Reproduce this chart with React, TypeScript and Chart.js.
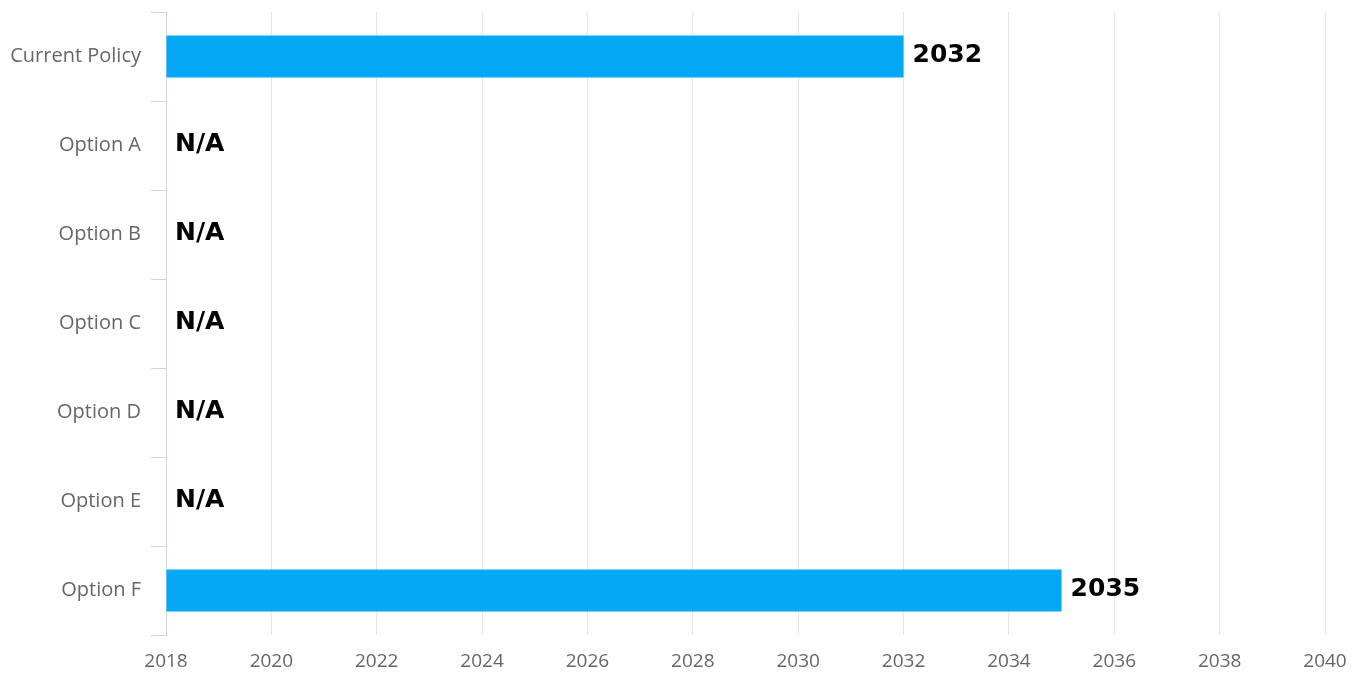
import React, { useEffect, useRef } from "react";
import { Chart, registerables } from "chart.js";

Chart.register(...registerables);

const categories = ["Current Policy", "Option A", "Option B", "Option C", "Option D", "Option E", "Option F"];
const years: (number | null)[] = [2032, null, null, null, null, null, 2035];
const axisMin = 2018;
const axisMax = 2040;
const axisStep = 2;
const missingLabel = "N/A";

const labelPlugin = {
  id: "barLabels",
  afterDatasetsDraw(chart: any) {
    const ctx = chart.ctx;
    const meta = chart.getDatasetMeta(0);
    const xScale = chart.scales.x;
    ctx.save();
    ctx.font = "bold 25px 'DejaVu Sans'";
    ctx.fillStyle = "#000000";
    ctx.textAlign = "left";
    ctx.textBaseline = "alphabetic";
    meta.data.forEach((bar: any, i: number) => {
      const v = years[i];
      const text = v == null ? missingLabel : String(v);
      const endX = v == null ? xScale.left : xScale.getPixelForValue(v);
      ctx.fillText(text, endX + 9, bar.y + 5.5);
    });
    ctx.restore();
  },
};

export default function App() {
  const ref = useRef<HTMLCanvasElement>(null);
  useEffect(() => {
    if (!ref.current) return;
    const chart = new Chart(ref.current, {
      type: "bar",
      data: {
        labels: categories,
        datasets: [
          {
            data: years as any,
            backgroundColor: "#03A9F4",
            borderWidth: 0,
            base: axisMin,
            categoryPercentage: 1,
            barPercentage: 0.47,
          } as any,
        ],
      },
      options: {
        indexAxis: "y",
        animation: false,
        responsive: true,
        maintainAspectRatio: false,
        layout: { padding: { top: 12, right: 39, left: 0, bottom: 0 } },
        plugins: { legend: { display: false }, tooltip: { enabled: false } },
        scales: {
          x: {
            type: "linear",
            min: axisMin,
            max: axisMax,
            ticks: {
              stepSize: axisStep,
              callback: (v: any) => String(v),
              color: "#666666",
              font: { family: "'Open Sans'", size: 19 },
              padding: 15,
            },
            grid: { color: "#e6e6e6", drawTicks: false, lineWidth: 1 },
            border: { display: false },
            afterFit: (s: any) => {
              s.height = 38;
            },
          },
          y: {
            ticks: {
              color: "#666666",
              font: { family: "'Open Sans'", size: 20 },
              padding: 10,
            },
            grid: { color: "#ccd6eb", drawOnChartArea: false, tickLength: 15, offset: true },
            border: { display: true, color: "#ccd6eb" },
            afterFit: (s: any) => {
              s.width = 166;
              s.paddingTop = 0;
              s.paddingBottom = 0;
            },
          },
        },
      },
      plugins: [labelPlugin],
    });
    return () => chart.destroy();
  }, []);
  return (
    <div style={{ position: "fixed", left: 0, top: 0, width: 1364, height: 673, background: "#ffffff" }}>
      <canvas ref={ref} />
    </div>
  );
}
